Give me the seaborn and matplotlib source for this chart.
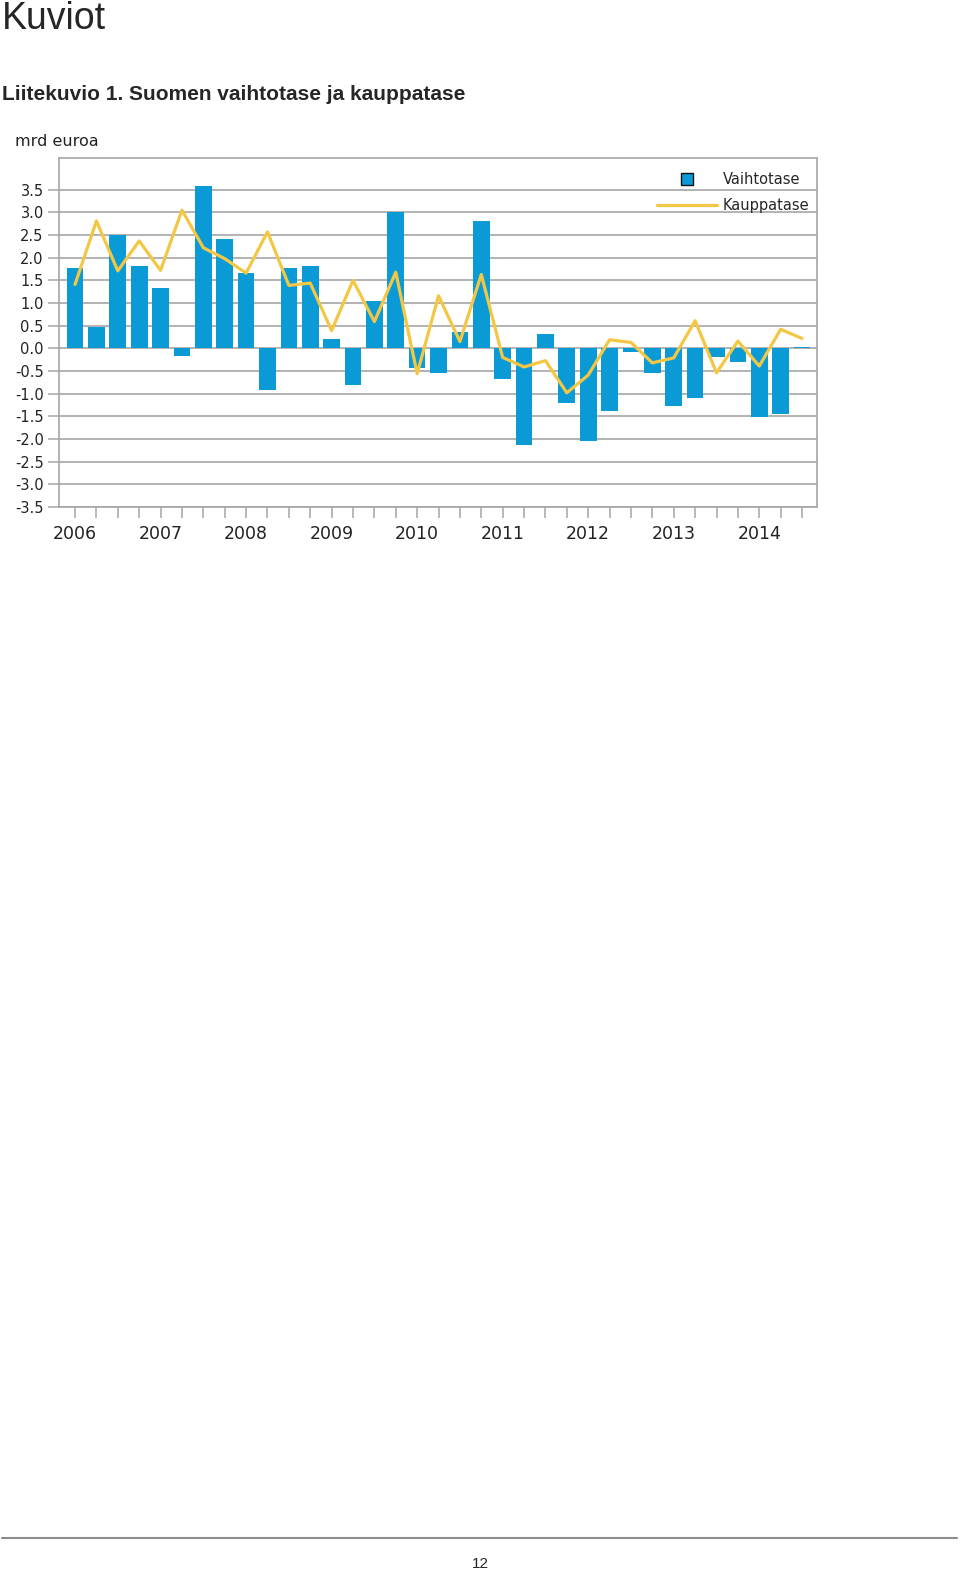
import numpy as np
import pandas as pd
import seaborn as sns
import matplotlib.pyplot as plt
from matplotlib.lines import Line2D

years = [2006, 2007, 2008, 2009, 2010, 2011, 2012, 2013, 2014]
quarters = [f"{y}Q{q}" for y in years for q in range(1, 5)][:35]

# current account (bars) and trade balance (line), bn euro per quarter
vaihtotase = [1.78, 0.47, 2.50, 1.81, 1.33, -0.16, 3.58, 2.41,
              1.67, -0.91, 1.77, 1.81, 0.21, -0.81, 1.05, 3.00,
              -0.44, -0.54, 0.35, 2.82, -0.67, -2.13, 0.32, -1.20,
              -2.05, -1.38, -0.09, -0.54, -1.27, -1.10, -0.20, -0.30,
              -1.52, -1.44, 0.04]
kauppatase = [1.41, 2.81, 1.71, 2.37, 1.72, 3.05, 2.22, 1.98,
              1.66, 2.57, 1.39, 1.44, 0.39, 1.50, 0.59, 1.68,
              -0.56, 1.16, 0.15, 1.63, -0.20, -0.41, -0.27, -0.98,
              -0.59, 0.19, 0.13, -0.32, -0.21, 0.61, -0.54, 0.16,
              -0.39, 0.42, 0.22]

df = pd.DataFrame({"kvartaali": quarters,
                   "pos": np.arange(len(quarters)),
                   "Vaihtotase": vaihtotase,
                   "Kauppatase": kauppatase})

bar_col = "#0A9BD7"
line_col = "#F3C744"
grid_col = "#A6A6A6"

sns.set_style("white")
plt.rcParams["font.family"] = ["DejaVu Sans"]

fig = plt.figure(figsize=(9.6, 15.72), dpi=100)
W, H = 960, 1572
ax = fig.add_axes([59 / W, 1 - 507 / H, (817 - 59) / W, (507 - 158) / H])

sns.barplot(data=df, x="pos", y="Vaihtotase", native_scale=True, width=0.78,
            color=bar_col, saturation=1, linewidth=0, edgecolor=bar_col,
            ax=ax, zorder=2)
sns.lineplot(data=df, x="pos", y="Kauppatase", color=line_col, lw=2.3,
             ax=ax, zorder=3)

ax.set_xlim(-0.75, len(quarters) - 0.3)
ax.set_ylim(-3.5, 4.2)
yt = np.arange(-3.5, 3.51, 0.5)
ax.set_yticks(yt)
ax.set_yticklabels([f"{v:.1f}" for v in yt], fontsize=10.5)
ax.yaxis.grid(True, color=grid_col, lw=1.2, zorder=0)
ax.set_axisbelow(True)

ax.set_xticks(df["pos"])
ax.set_xticklabels([q[:4] if q.endswith("Q1") else "" for q in quarters],
                   fontsize=12.5)
ax.tick_params(axis="both", direction="out", length=8, width=1.1,
               bottom=True, left=True, colors=grid_col,
               labelcolor="#222222")
ax.tick_params(axis="x", pad=5)
ax.tick_params(axis="y", pad=3)
for s in ax.spines.values():
    s.set_color(grid_col)
    s.set_linewidth(1.2)
ax.set_xlabel("")
ax.set_ylabel("")

handles = [Line2D([], [], ls="none", marker="s", markersize=9,
                  markerfacecolor=bar_col, markeredgecolor="#111111"),
           Line2D([], [], color=line_col, lw=2.3)]
ax.legend(handles, ["Vaihtotase", "Kauppatase"], loc="upper right",
          bbox_to_anchor=(0.99, 0.96), frameon=False, fontsize=10.5,
          handlelength=4.1, handletextpad=0.4, labelspacing=0.75,
          borderpad=0, borderaxespad=0)

fig.text(15 / W, 1 - 141 / H, "mrd euroa", fontsize=11.5, va="center",
         ha="left", color="#222222")
fig.text(2 / W, 1 - 19 / H, "Kuviot", fontsize=27, va="center", ha="left",
         family="Liberation Sans")
fig.text(2 / W, 1 - 94 / H, "Liitekuvio 1. Suomen vaihtotase ja kauppatase",
         fontsize=15, fontweight="bold", va="center", ha="left",
         family="Liberation Sans")

fig.add_artist(Line2D([2 / W, 957 / W], [1 - 1538 / H, 1 - 1538 / H],
                      color="#8C8C8C", lw=1.5))
fig.text(480 / W, 1 - 1564 / H, "12", fontsize=11, ha="center", va="center",
         family="Liberation Sans")

fig.savefig("out.png", dpi=100)
